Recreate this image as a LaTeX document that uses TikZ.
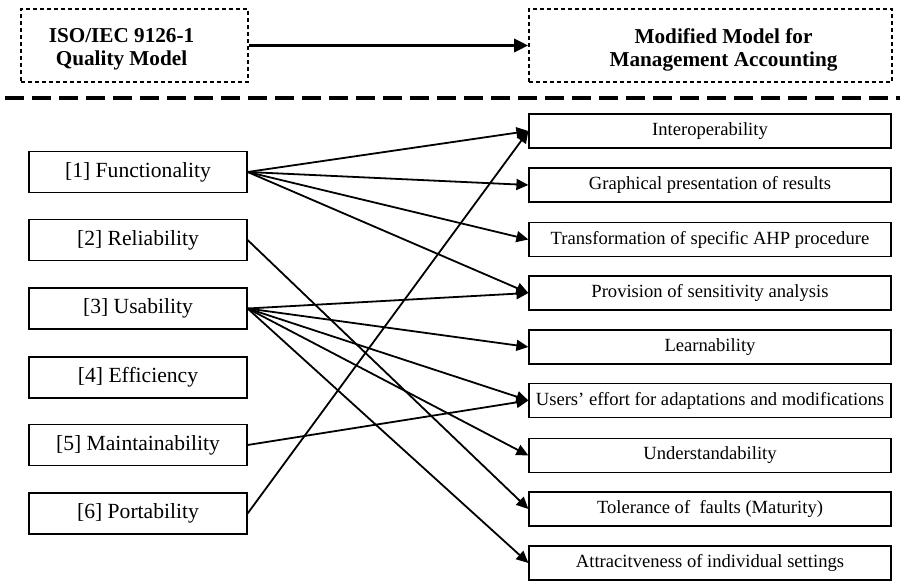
\documentclass[tikz,border=0pt]{standalone}
\usepackage{fontspec}
\setmainfont{Liberation Serif}
\usetikzlibrary{arrows.meta}

\begin{document}
\begin{tikzpicture}[x=0.5pt,y=-0.5pt,
	headbox/.style={shape=rectangle,draw=black,line width=0.8pt,dash pattern=on 2pt off 1.5pt,minimum width=113.5pt,minimum height=36.5pt},
	headtext/.style={align=center,font=\fontsize{10.6}{11.6}\selectfont\bfseries},
	leftbox/.style={shape=rectangle,draw=black,line width=0.6pt,minimum width=109pt,minimum height=20.5pt,font=\fontsize{10.8}{12}\selectfont},
	rightbox/.style={shape=rectangle,draw=black,line width=0.6pt,minimum width=181pt,minimum height=17pt,font=\fontsize{9.3}{11}\selectfont},
	arr/.style={-{Triangle[length=6pt,width=5.5pt]},line width=0.9pt}]
	\useasboundingbox (0,0) rectangle (900,581);

	\node [headbox,label={[headtext,xshift=-6.5pt,yshift=-2pt]center:ISO/IEC 9126-1\\Quality Model}] (ISO) at (134.5,45.5) {};
	\node [headbox,minimum width=181.5pt,label={[headtext,xshift=6.5pt,yshift=-2pt]center:Modified Model for\\Management Accounting}] (MM) at (710.5,45.5) {};
	\path [-{Triangle[length=7pt,width=6.5pt]},line width=1.6pt] (ISO) edge node {} (MM);

	\coordinate (sepL) at (5,98);
	\coordinate (sepR) at (900,98);
	\draw [line width=1.6pt,dash pattern=on 9.5pt off 4pt] (sepL) -- (sepR);

	\node [leftbox] (F) at (138,172) {[1] Functionality};
	\node [leftbox] (R) at (138,240) {[2] Reliability};
	\node [leftbox] (U) at (138,308.5) {[3] Usability};
	\node [leftbox] (E) at (138,377.5) {[4] Efficiency};
	\node [leftbox] (M) at (138,445) {[5] Maintainability};
	\node [leftbox] (P) at (138,513.5) {[6] Portability};

	\node [rightbox] (IO) at (710,131) {Interoperability};
	\node [rightbox] (GP) at (710,185) {Graphical presentation of results};
	\node [rightbox] (TA) at (710,239.5) {Transformation of specific AHP procedure};
	\node [rightbox] (PS) at (710,293) {Provision of sensitivity analysis};
	\node [rightbox] (L) at (710,347) {Learnability};
	\node [rightbox] (UE) at (710,400.5) {Users' effort for adaptations and modifications};
	\node [rightbox] (UN) at (710,455.5) {Understandability};
	\node [rightbox] (TF) at (710,509) {Tolerance of\ \ faults (Maturity)};
	\node [rightbox] (AI) at (710,563) {Attracitveness of individual settings};

	\path [arr] (F.east) edge node {} (IO.west);
	\path [arr] (F.east) edge node {} (GP.west);
	\path [arr] (F.east) edge node {} (TA.west);
	\path [arr] (F.east) edge node {} (PS.west);
	\path [arr] (R.east) edge node {} (TF.west);
	\path [arr] (U.east) edge node {} (PS.west);
	\path [arr] (U.east) edge node {} (L.west);
	\path [arr] (U.east) edge node {} (UE.west);
	\path [arr] (U.east) edge node {} (UN.west);
	\path [arr] (U.east) edge node {} (AI.west);
	\path [arr] (M.east) edge node {} (UE.west);
	\path [arr] (P.east) edge node {} (IO.west);
\end{tikzpicture}
\end{document}
